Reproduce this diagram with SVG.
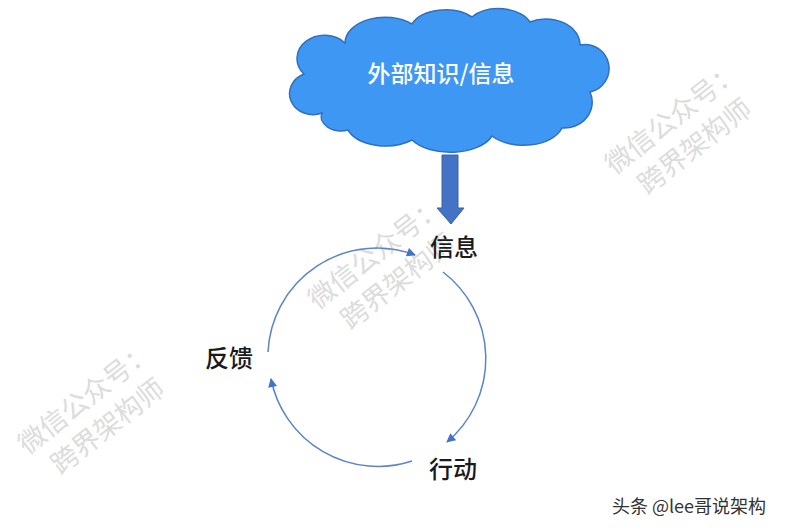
<svg xmlns="http://www.w3.org/2000/svg" width="795" height="530" viewBox="0 0 795 530">
<defs>
<style>
.lbl{font-family:"Noto Sans CJK SC","Noto Sans",sans-serif;font-size:24px;font-weight:500;fill:#1a1a1a;text-anchor:middle;dominant-baseline:central}
.wm{font-family:"Noto Sans CJK SC","Noto Sans",sans-serif;font-size:27px;fill:#dcdcdc;text-anchor:middle}
.cyc{fill:none;stroke:#5b84c9;stroke-width:1.5}
</style>
<marker id="ah" viewBox="0 0 10 10" refX="9" refY="5" markerWidth="10" markerHeight="9" markerUnits="userSpaceOnUse" orient="auto">
<path d="M0,0 L10,5 L0,10 Z" fill="#4472c4"/>
</marker>
</defs>
<rect width="795" height="530" fill="#ffffff"/>
<g id="watermarks">
<g transform="translate(385,265) rotate(-38)"><text class="wm" x="0" y="-6">微信公众号：</text><text class="wm" x="0" y="30">跨界架构师</text></g>
<g transform="translate(682,130) rotate(-38)"><text class="wm" x="0" y="-6">微信公众号：</text><text class="wm" x="0" y="30">跨界架构师</text></g>
<g transform="translate(95,410) rotate(-38)"><text class="wm" x="0" y="-6">微信公众号：</text><text class="wm" x="0" y="30">跨界架构师</text></g>
</g>
<g id="cloud">
<path d="M322,113 A20,18 0 0 1 304,74 A26,22 0 0 1 345,43 A40,26 0 0 1 412,24 A36,22 0 0 1 472,17 A34,22 0 0 1 530,22 A34,26 0 0 1 580,45 A22,22 0 0 1 590,92 A28,26 0 0 1 562,128 A40,24 0 0 1 492,136 A44,24 0 0 1 412,140 A40,24 0 0 1 348,130 A20,14 0 0 1 322,113 Z" fill="#3f97f4" stroke="#2f6fbe" stroke-width="1.5"/>
<text class="lbl" x="441" y="72" style="fill:#ffffff;font-size:23px">外部知识/信息</text>
</g>
<g id="info">
<text class="lbl" x="454" y="245">信息</text>
</g>
<g id="feedback">
<text class="lbl" x="229" y="356">反馈</text>
</g>
<g id="action">
<text class="lbl" x="453" y="467">行动</text>
</g>
<g id="connectors">
<polygon points="442,155 458,155 458,208 464,208 451,224 437,208 442,208" fill="#4472c4" stroke="#3a62a8" stroke-width="1"/>
<path class="cyc" d="M268,352 A109,109 0 0 1 415,255" marker-end="url(#ah)"/>
<path class="cyc" d="M443,272 A109,109 0 0 1 447,442" marker-end="url(#ah)"/>
<path class="cyc" d="M412,461 A109,109 0 0 1 271,379" marker-end="url(#ah)"/>
</g>
<text x="689" y="505" style="font-family:'Noto Sans CJK SC','Noto Sans',sans-serif;font-size:18px;fill:#333;text-anchor:middle;dominant-baseline:central">头条 @lee哥说架构</text>
</svg>
